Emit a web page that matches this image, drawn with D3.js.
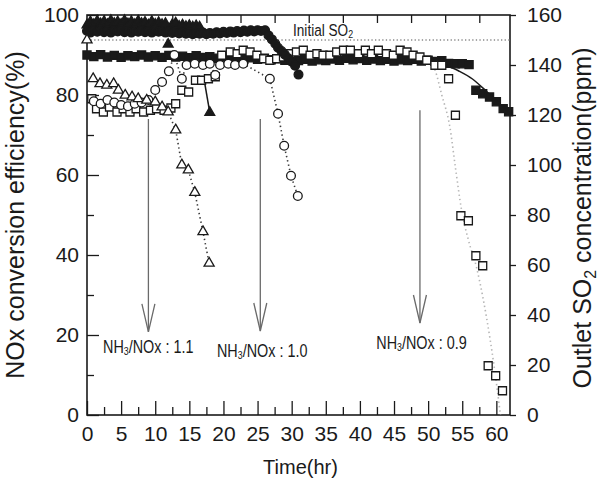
<!DOCTYPE html>
<html>
<head>
<meta charset="utf-8">
<script src="https://cdn.jsdelivr.net/npm/d3@7"></script>
<style>
  html, body { margin: 0; padding: 0; background: #fff; }
  svg { display: block; font-family: "Liberation Sans", Arial, Helvetica, sans-serif; }
</style>
</head>
<body>
<svg id="chart" width="598" height="483"></svg>
<script>
// ---- NOx conversion efficiency (%), filled markers: [time (hr), value] ----
const noxRatio11 = [
  [0,97.5],[0.5,98.3],[1,97.6],[1.5,98.5],[2,97.8],[2.5,98.4],[3,97.6],[3.5,98.6],[4,97.9],[4.5,98.3],
  [5,97.7],[5.5,98.6],[6,97.8],[6.5,98.4],[7,97.6],[7.5,98.5],[8,97.9],[8.5,98.2],[9,97.5],[9.5,98.4],
  [10,97.7],[10.5,98.1],[11,97.6],[11.5,97.9],[11.9,92.7],[12.5,97.6],[13,98.0],[13.5,97.2],[14,97.5],
  [14.5,97.1],[15,97.4],[15.5,97.0],[16,97.3],[16.5,97.0],[18,75.6]
];
const noxRatio10 = [
  [0,96.0],[0.5,95.6],[1,96.2],[1.5,95.8],[2,96.3],[2.5,95.7],[3,96.1],[3.5,95.6],[4,96.2],[4.5,95.9],
  [5,96.3],[5.5,95.7],[6,96.0],[6.5,95.6],[7,96.1],[7.5,95.8],[8,96.2],[8.5,95.7],[9,96.0],[9.5,95.6],
  [10,96.1],[10.5,95.8],[11,96.0],[11.5,95.6],[12,95.9],[12.5,95.5],[13,95.8],[13.5,95.4],[14,95.7],
  [14.5,95.3],[15,95.6],[15.5,95.2],[16,95.5],[16.5,95.3],[17,95.6],[17.5,95.2],[18,95.5],[18.5,95.3],
  [19,95.7],[19.5,95.4],[20,95.8],[20.5,95.5],[21,95.9],[21.5,95.6],[22,96.0],[22.5,95.7],[23,96.1],
  [23.5,95.8],[24,96.2],[24.5,95.9],[25,96.2],[25.5,96.0],[26.1,96.2],[26.6,94.9],[27.1,93.9],
  [27.6,92.8],[28.0,91.8],[28.5,91.0],[29.0,90.1],[29.5,89.2],[30.0,88.3],[30.5,87.3],[31.0,85.1]
];
const noxRatio09 = [
  [0,90.0],[1,89.6],[2,90.1],[3,89.5],[4,89.9],[5,89.4],[6,89.8],[7,89.6],[8,90.0],[9,89.5],
  [10,89.8],[11,89.4],[12,89.9],[13,89.5],[14,89.7],[15,89.3],[16,89.8],[17,89.4],[18,89.6],[19,89.2],
  [20,89.5],[21,89.1],[22,89.4],[23,89.0],[24,89.3],[25,88.9],[26,89.2],[27,88.8],[28,89.1],[29,88.7],
  [30,89.0],[31,88.6],[32,88.9],[33,88.5],[34,88.8],[35,88.6],[36,89.0],[37,88.7],[38,89.2],[39,88.8],
  [40,89.1],[41,88.7],[42,89.0],[43,88.6],[44,88.9],[45,88.5],[46,88.8],[47,88.6],[48,88.9],[49,88.5],
  [50,88.7],[51,88.4],[52,88.6],[53,87.9],[54,87.8],[55,87.8],[56,87.6],
  [57,81.2],[58,80.3],[59,79.5],[60,78.3],[61,76.6],[61.8,75.8]
];
// solid trend lines through the falling NOx points
const noxTrend11 = [[17.1,84.5],[18,75.6]];
const noxTrend09 = [[47,89.3],[50,88.9],[52,88.0],[53,87.2],[54.5,86.0],[56.5,84.0],[58.5,81.0],[60.5,77.8],[62,75.3]];

// ---- Outlet SO2 concentration (ppm), open markers: [time (hr), value] ----
const so2Ratio11 = [
  [0,150],[0.9,134.5],[1.9,132.5],[2.9,131.9],[3.9,132.5],[4.6,129.9],[5.6,127.9],[6.6,127.2],
  [7.5,126.5],[8.75,125.9],[10.0,125.2],[11.0,123.2],[11.9,121.2],[13.0,114],[13.9,100],
  [14.85,98],[15.8,89],[17.0,73.3],[17.9,60.7]
];
const so2Ratio10 = [
  [1,125.5],[2,124.5],[3,126],[4,125],[5,124],[6,123.5],[7,124.5],[8,125],[9,126],[10,130],
  [11,133.2],[12,137.5],[12.8,144],[13.9,134.5],[14.6,140],[15.8,140.5],[17.0,140],[18.0,140.5],
  [18.8,136],[19.5,140],[20.7,140.5],[21.7,140],[22.9,140.5],[26.8,134.5],[28.0,120.5],
  [28.9,107.7],[29.9,95.7],[30.9,87.6]
];
const so2Ratio09 = [
  [0.7,126.5],[1.4,122.5],[2.4,121.2],[3.3,123.2],[4.4,121.2],[5.3,122.5],[6.3,121.2],[7.2,122.5],
  [8.3,121.2],[9.3,121.9],[10.2,122.5],[11.3,121.9],[12.3,122.8],[13.0,124.5],[13.9,129.9],
  [14.9,129.2],[15.9,133.9],[16.8,133.9],[17.8,134.5],[18.8,135.3],[19.75,143.9],[21.0,145.2],
  [22.0,144.5],[22.9,145.9],[23.9,145.2],[24.9,143.9],[25.9,142.5],[26.8,141.9],[27.8,142.5],
  [28.8,143.2],[29.8,144.5],[30.7,145.2],[31.7,145.9],[32.7,143.9],[33.7,144.5],[34.6,143.9],
  [35.6,143.9],[36.6,145.2],[37.6,145.9],[38.6,145.9],[39.8,144.5],[40.8,145.9],[41.7,144.5],
  [42.7,145.9],[43.9,144.5],[44.9,143.9],[45.9,145.9],[46.9,145.2],[47.8,143.9],[48.8,143.2],
  [49.8,141.9],[51.0,139.9],[52.0,139.9],[53.0,134.5],[54.0,119.9],[54.8,79.7],[55.9,77.7],
  [57.0,63.7],[58.0,59.7],[58.8,19.7],[59.9,15.7],[60.9,9.7]
];
// dotted breakthrough curve for the 0.9 run
const so2Trend09 = [[50.2,141],[51,138],[52,128],[53.2,115],[54,99],[54.9,82],[55.9,70],[57.1,59],
  [58.1,46],[59.1,30],[59.8,17],[60.6,0]];
const initialSO2 = 150;

// ---- annotations: NH3/NOx ratio arrows (time, from %, to %) and labels ----
const arrowTimes = [9.0, 25.4, 48.8];
const arrowFrom  = [74, 74, 76.2];
const arrowTo    = [20.8, 21.0, 23.0];
const ratioValues = ["1.1", "1.0", "0.9"];
const ratioLabelTime = [2.35, 19.05, 42.4];
const ratioLabelLevel = [15.5, 14.5, 16.5];

// ---- axis ticks ----
const xMajorTicks = [0,5,10,15,20,25,30,35,40,45,50,55,60];
const xMinorTicks = [2.5,7.5,12.5,17.5,22.5,27.5,32.5,37.5,42.5,47.5,52.5,57.5];
const yLeftTicks = [0,20,40,60,80,100];
const yLeftMinor = [10,30,50,70,90];
const yRightTicks = [0,20,40,60,80,100,120,140,160];

const svg = d3.select("#chart");
const L = 87, R = 510, T = 15, B = 415;

const x = d3.scaleLinear().domain([0, 62]).range([L, R]);
const yL = d3.scaleLinear().domain([0, 100]).range([B, T]);
const yR = d3.scaleLinear().domain([0, 160]).range([B, T]);

const ink = "#1a1a1a";

function styleAxis(g) {
  g.select(".domain").remove();
  g.selectAll(".tick line").attr("stroke", ink).attr("stroke-width", 1.3);
  g.selectAll(".tick text").attr("fill", ink).attr("font-size", 21)
    .attr("font-family", '"Liberation Sans", Arial, sans-serif');
}

// bottom axis: labelled majors, short minors, drawn inward
svg.append("g").attr("transform", `translate(0,${B})`)
  .call(d3.axisBottom(x).tickValues(xMajorTicks).tickSize(-14).tickPadding(11).tickFormat(d3.format("d")))
  .call(styleAxis);
svg.append("g").attr("transform", `translate(0,${B})`)
  .call(d3.axisBottom(x).tickValues(xMinorTicks).tickSize(-8).tickFormat(""))
  .call(styleAxis);
// top axis: short inward ticks
svg.append("g").attr("transform", `translate(0,${T})`)
  .call(d3.axisTop(x).tickValues(xMinorTicks).tickSize(-8).tickFormat(""))
  .call(styleAxis);
// left axis
svg.append("g").attr("transform", `translate(${L},0)`)
  .call(d3.axisLeft(yL).tickValues(yLeftTicks).tickSize(-12).tickPadding(8).tickFormat(d3.format("d")))
  .call(styleAxis);
svg.append("g").attr("transform", `translate(${L},0)`)
  .call(d3.axisLeft(yL).tickValues(yLeftMinor).tickSize(-7).tickFormat(""))
  .call(styleAxis);
// right axis
svg.append("g").attr("transform", `translate(${R},0)`)
  .call(d3.axisRight(yR).tickValues(yRightTicks).tickSize(6).tickPadding(11).tickFormat(d3.format("d")))
  .call(styleAxis);

// frame
svg.append("rect").attr("x", L).attr("y", T).attr("width", R - L).attr("height", B - T)
  .attr("fill", "none").attr("stroke", ink).attr("stroke-width", 1.6);

// axis titles
svg.append("text").attr("transform", "translate(24,215) rotate(-90)")
  .attr("text-anchor", "middle").attr("font-size", 25).attr("fill", ink)
  .text("NOx conversion efficiency(%)");
const rt = svg.append("text").attr("transform", "translate(591,218) rotate(-90)")
  .attr("text-anchor", "middle").attr("font-size", 25).attr("fill", ink);
rt.append("tspan").text("Outlet SO");
rt.append("tspan").attr("font-size", 16).attr("dy", 5).text("2");
rt.append("tspan").attr("dy", -5).text(" concentration(ppm)");
svg.append("text").attr("x", (L + R) / 2 + 2).attr("y", 474)
  .attr("text-anchor", "middle").attr("font-size", 20).attr("fill", ink).text("Time(hr)");

// initial SO2 reference line
svg.append("line").attr("x1", L).attr("x2", R).attr("y1", yR(initialSO2)).attr("y2", yR(initialSO2))
  .attr("stroke", "#8a8a8a").attr("stroke-width", 1.5).attr("stroke-dasharray", "1.3,2.3");
const it = svg.append("g")
  .attr("transform", `translate(${x(30.2)},${yR(initialSO2) - 4}) scale(0.8,1)`)
  .append("text").attr("font-size", 17).attr("fill", ink);
it.append("tspan").text("Initial SO");
it.append("tspan").attr("font-size", 11).attr("dy", 2).text("2");

// lines
const lineL = d3.line().x(d => x(d[0])).y(d => yL(d[1]));
const lineR = d3.line().x(d => x(d[0])).y(d => yR(d[1]));
const curveR = d3.line().x(d => x(d[0])).y(d => yR(d[1])).curve(d3.curveMonotoneX);
const curveL = d3.line().x(d => x(d[0])).y(d => yL(d[1])).curve(d3.curveMonotoneX);

svg.append("path").attr("d", curveR(so2Trend09)).attr("fill", "none")
  .attr("stroke", "#b5b5b5").attr("stroke-width", 1.6).attr("stroke-dasharray", "1.4,3");
svg.append("path").attr("d", lineR(so2Ratio11.slice(1))).attr("fill", "none")
  .attr("stroke", "#3a3a3a").attr("stroke-width", 1.6).attr("stroke-dasharray", "1.4,3");
svg.append("path").attr("d", lineR(so2Ratio10)).attr("fill", "none")
  .attr("stroke", "#3a3a3a").attr("stroke-width", 1.6).attr("stroke-dasharray", "1.4,3");

// arrows
arrowTimes.forEach((t, i) => {
  const ax = x(t), y0 = yL(arrowFrom[i]), y1 = yL(arrowTo[i]);
  const g = svg.append("g").attr("stroke", "#6a6a6a").attr("stroke-width", 1.3).attr("fill", "none");
  g.append("line").attr("x1", ax).attr("x2", ax).attr("y1", y0).attr("y2", y1);
  g.append("path").attr("d", `M${ax - 6.5},${y1 - 28} L${ax},${y1} L${ax + 6.5},${y1 - 28}`);
});

// ratio labels, set in a narrow face by horizontal compression
ratioValues.forEach((v, i) => {
  const t = svg.append("g")
    .attr("transform", `translate(${x(ratioLabelTime[i])},${yL(ratioLabelLevel[i])}) scale(0.8,1)`)
    .append("text").attr("font-size", 18).attr("fill", ink);
  t.append("tspan").text("NH");
  t.append("tspan").attr("font-size", 11).attr("dy", 2).text("3");
  t.append("tspan").attr("dy", -2).text("/NOx : " + v);
});

// markers
const sym = (type, size) => d3.symbol().type(type).size(size)();
function drawMarkers(data, yScale, type, size, filled) {
  svg.append("g").selectAll("path").data(data).join("path")
    .attr("transform", d => `translate(${x(d[0])},${yScale(d[1])})`)
    .attr("d", sym(type, size))
    .attr("fill", filled ? ink : "#fff")
    .attr("stroke", ink).attr("stroke-width", 1.3);
}

drawMarkers(noxRatio09, yL, d3.symbolSquare, 66, true);
svg.append("path").attr("d", curveL(noxTrend09)).attr("fill", "none").attr("stroke", ink).attr("stroke-width", 1.5);
svg.append("path").attr("d", lineL(noxTrend11)).attr("fill", "none").attr("stroke", ink).attr("stroke-width", 1.5);
drawMarkers(so2Ratio09, yR, d3.symbolSquare, 64, false);
drawMarkers(noxRatio11, yL, d3.symbolTriangle, 42, true);
drawMarkers(noxRatio10, yL, d3.symbolCircle, 60, true);
drawMarkers(so2Ratio10, yR, d3.symbolCircle, 60, false);
drawMarkers(so2Ratio11, yR, d3.symbolTriangle, 44, false);
</script>
</body>
</html>
